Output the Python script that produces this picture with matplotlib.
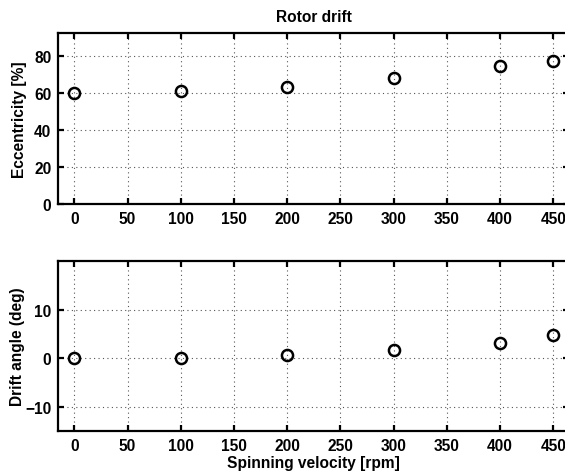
import matplotlib
matplotlib.use('Agg')
import matplotlib.pyplot as plt

# Data
speed = [0, 100, 200, 300, 400, 450]
eccentricity = [59.8, 60.7, 63.2, 67.9, 74.3, 77.0]
drift_angle = [0.0, 0.15, 0.6, 1.6, 3.2, 4.8]

x_ticks = [0, 50, 100, 150, 200, 250, 300, 350, 400, 450]
ecc_ticks = [0, 20, 40, 60, 80]
drift_ticks = [-10, 0, 10]

FS = 11.2
plt.rcParams['font.family'] = ['Liberation Sans', 'DejaVu Sans']
plt.rcParams['font.weight'] = 'bold'
plt.rcParams['font.size'] = FS

fig = plt.figure(figsize=(5.65, 4.77), dpi=100)
ax1 = fig.add_axes([0.1032, 0.5709, 0.9044, 0.3572])
ax2 = fig.add_axes([0.1032, 0.0937, 0.9044, 0.3572])


def style(ax):
    for s in ax.spines.values():
        s.set_linewidth(1.6)
    ax.tick_params(direction='in', length=4, width=1.6, top=True, right=True,
                   labelsize=FS, pad=5)
    ax.grid(True, linestyle=(0, (1, 3)), color='#555555', linewidth=0.8)
    ax.set_axisbelow(True)
    ax.set_xlim(-15, 465)
    ax.set_xticks(x_ticks)


ax1.plot(speed, eccentricity, 'o', markerfacecolor='none', markeredgecolor='black',
         markersize=8, markeredgewidth=1.8, clip_on=False)
style(ax1)
ax1.set_ylim(0, 92)
ax1.set_yticks(ecc_ticks)
ax1.set_ylabel('Eccentricity [%]', fontweight='bold', fontsize=FS, labelpad=5)
ax1.set_title('Rotor drift', fontweight='bold', fontsize=FS, pad=9)

ax2.plot(speed, drift_angle, 'o', markerfacecolor='none', markeredgecolor='black',
         markersize=8, markeredgewidth=1.8, clip_on=False)
style(ax2)
ax2.set_ylim(-15, 20)
ax2.set_yticks(drift_ticks)
ax2.set_ylabel('Drift angle (deg)', fontweight='bold', fontsize=FS, labelpad=0)
ax2.set_xlabel('Spinning velocity [rpm]', fontweight='bold', fontsize=FS, labelpad=1)

fig.savefig('out.png', dpi=100)
